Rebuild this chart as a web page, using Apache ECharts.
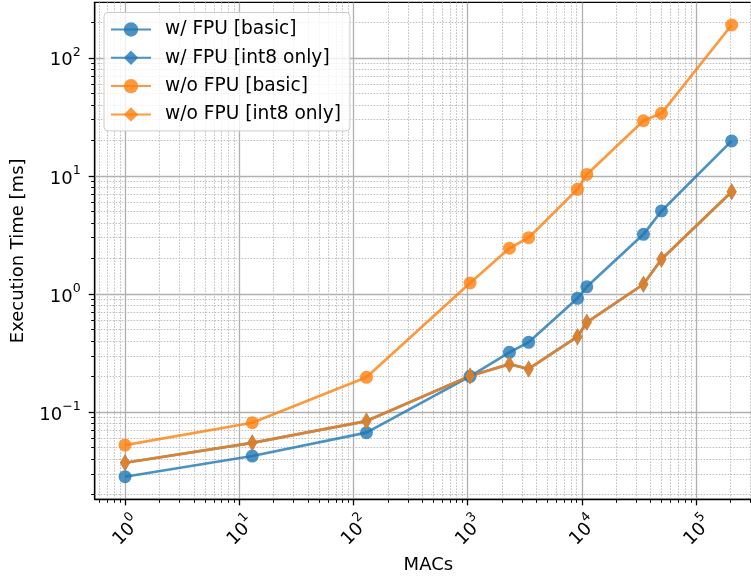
<!DOCTYPE html>
<html>
<head>
<meta charset="utf-8">
<script src="https://cdn.jsdelivr.net/npm/echarts@6/dist/echarts.min.js"></script>
<style>
  html, body { margin: 0; padding: 0; background: #fff; overflow: hidden; width: 751px; height: 581px; }
  #chart { width: 770px; height: 581px; }
</style>
</head>
<body>
<div id="chart"></div>
<script>
// ---- data ----
const macs = [1, 13, 130, 1050, 2320, 3420, 9150, 11050, 34600, 49800, 205000];
const wFpuBasic = [0.0284, 0.0425, 0.067, 0.201, 0.321, 0.390, 0.92, 1.15, 3.2, 5.05, 19.8];
const wFpuInt8 = [0.0373, 0.055, 0.084, 0.202, 0.255, 0.232, 0.435, 0.576, 1.21, 1.97, 7.35];
const woFpuBasic = [0.0526, 0.0813, 0.197, 1.24, 2.44, 3.0, 7.7, 10.3, 29.3, 33.9, 189.6];
const woFpuInt8 = [0.0373, 0.055, 0.084, 0.202, 0.255, 0.232, 0.435, 0.576, 1.21, 1.97, 7.35];
const seriesNames = ['w/ FPU [basic]', 'w/ FPU [int8 only]', 'w/o FPU [basic]', 'w/o FPU [int8 only]'];
const xMajorTicks = [1, 10, 100, 1000, 10000, 100000];
const yMajorTicks = [0.1, 1, 10, 100];
const minorMultipliers = [2, 3, 4, 5, 6, 7, 8, 9];
const minorDecades = [0.01, 0.1, 1, 10, 100, 1000, 10000, 100000];

// matplotlib-like 5% margins in log space
function logLimits(vals) {
  const lmin = Math.log10(Math.min(...vals)), lmax = Math.log10(Math.max(...vals));
  const m = (lmax - lmin) * 0.05;
  return [Math.pow(10, lmin - m), Math.pow(10, lmax + m)];
}
const [xMin, xMax] = logLimits(macs);
const [yMin, yMax] = logLimits([].concat(wFpuBasic, wFpuInt8, woFpuBasic, woFpuInt8));

const minors = [];
minorDecades.forEach(d => minorMultipliers.forEach(k => minors.push(k * d)));
const xMinor = minors.filter(v => v > xMin && v < xMax);
const yMinor = minors.filter(v => v > yMin && v < yMax);

const FONT = 'DejaVu Sans';
const FS = 18;
const BLUE = '#1f77b4', ORANGE = '#ff7f0e';

function powLabel(v) {
  const e = Math.round(Math.log10(v));
  const es = e < 0 ? '\u2212' + (-e) : String(e);
  return '{b|10}{s|' + es + '}';
}
const richPow = {
  b: { fontSize: FS, fontFamily: FONT, color: '#000', lineHeight: 24, verticalAlign: 'bottom' },
  s: { fontSize: 12.6, fontFamily: FONT, color: '#000', lineHeight: 24, verticalAlign: 'top' }
};

function pairs(ys) { return macs.map((x, i) => [x, ys[i]]); }

function mkSeries(name, ys, color, symbol, size) {
  return {
    name: name, type: 'line', data: pairs(ys), xAxisIndex: 0, yAxisIndex: 0,
    symbol: symbol, symbolSize: size, showSymbol: true,
    lineStyle: { color: color, width: 2.7, opacity: 0.8 },
    itemStyle: { color: color, opacity: 0.8, borderWidth: 0 },
    emphasis: { disabled: true }, animation: false
  };
}

const chart = echarts.init(document.getElementById('chart'), null, { renderer: 'canvas', width: 770, height: 581 });
chart.setOption({
  animation: false,
  backgroundColor: '#fff',
  grid: { left: 94.7, top: 2.4, width: 667.3, height: 496.9, show: true, borderColor: '#000', borderWidth: 1.3, backgroundColor: 'transparent', containLabel: false },
  legend: {
    orient: 'vertical', left: 104, top: 12.5,
    padding: [7.5, 9, 7, 6], itemGap: 9.3, itemWidth: 40, itemHeight: 18,
    backgroundColor: 'rgba(255,255,255,0.8)', borderColor: '#cccccc', borderWidth: 1, borderRadius: 4,
    textStyle: { fontFamily: FONT, fontSize: 18.6, lineHeight: 18, color: '#000', padding: [0, 0, 0, 9] },
    data: seriesNames
  },
  xAxis: [
    {
      type: 'log', logBase: 10, min: xMin, max: xMax, gridIndex: 0,
      name: 'MACs', nameLocation: 'middle', nameGap: 57,
      nameTextStyle: { fontFamily: FONT, fontSize: FS, color: '#000' },
      axisLine: { show: true, onZero: false, lineStyle: { color: '#000', width: 1.3 } },
      axisTick: { show: true, inside: false, length: 6, lineStyle: { color: '#000', width: 1.3 }, customValues: xMajorTicks },
      axisLabel: { show: true, customValues: xMajorTicks, formatter: powLabel, rich: richPow, rotate: 45, align: 'center', verticalAlign: 'middle', margin: 30 },
      splitLine: { show: true, lineStyle: { color: '#b0b0b0', width: 1.3, type: 'solid' } },
      minorTick: { show: false }, minorSplitLine: { show: false }
    },
    {
      type: 'log', logBase: 10, min: xMin, max: xMax, gridIndex: 0, position: 'bottom',
      axisLine: { show: false, onZero: false },
      axisTick: { show: true, inside: false, length: 3.5, lineStyle: { color: '#000', width: 1 }, customValues: xMinor },
      axisLabel: { show: false },
      splitLine: { show: true, lineStyle: { color: '#bcbcbc', width: 1, type: [1.5, 1.5] } }
    }
  ],
  yAxis: [
    {
      type: 'log', logBase: 10, min: yMin, max: yMax, gridIndex: 0,
      name: 'Execution Time [ms]', nameLocation: 'middle', nameGap: 67, nameRotate: 90,
      nameTextStyle: { fontFamily: FONT, fontSize: FS, color: '#000' },
      axisLine: { show: true, onZero: false, lineStyle: { color: '#000', width: 1.3 } },
      axisTick: { show: true, inside: false, length: 6, lineStyle: { color: '#000', width: 1.3 }, customValues: yMajorTicks },
      axisLabel: { show: true, customValues: yMajorTicks, formatter: powLabel, rich: richPow, margin: 14 },
      splitLine: { show: true, lineStyle: { color: '#b0b0b0', width: 1.3, type: 'solid' } },
      minorTick: { show: false }, minorSplitLine: { show: false }
    },
    {
      type: 'log', logBase: 10, min: yMin, max: yMax, gridIndex: 0, position: 'left',
      axisLine: { show: false, onZero: false },
      axisTick: { show: true, inside: false, length: 3.5, lineStyle: { color: '#000', width: 1 }, customValues: yMinor },
      axisLabel: { show: false },
      splitLine: { show: true, lineStyle: { color: '#bcbcbc', width: 1, type: [1.5, 1.5] } }
    }
  ],
  series: [
    mkSeries(seriesNames[0], wFpuBasic, BLUE, 'circle', 13),
    mkSeries(seriesNames[1], wFpuInt8, BLUE, 'diamond', [10, 17]),
    mkSeries(seriesNames[2], woFpuBasic, ORANGE, 'circle', 13),
    mkSeries(seriesNames[3], woFpuInt8, ORANGE, 'diamond', [10, 17])
  ]
});
</script>
</body>
</html>
